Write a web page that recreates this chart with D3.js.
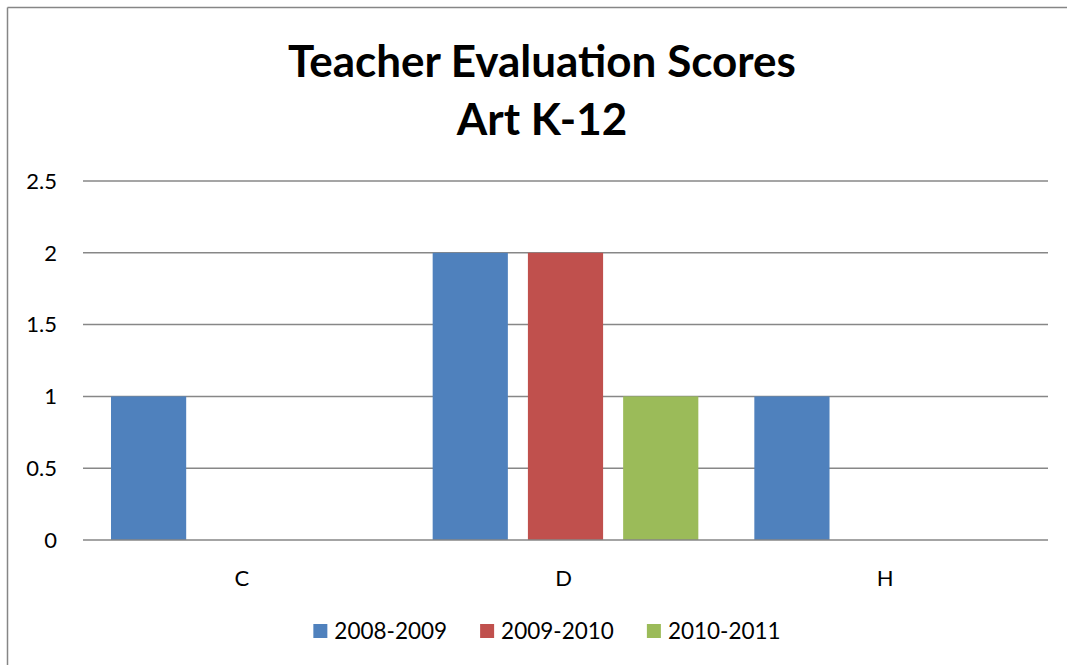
<!DOCTYPE html>
<html><head><meta charset="utf-8">
<script src="https://cdn.jsdelivr.net/npm/d3@7"></script>
<style>html,body{margin:0;background:#fff;overflow:hidden;} svg{display:block;font-family:Lato, "Open Sans", sans-serif;overflow:hidden;}</style>
</head><body>
<svg id="c" width="1067" height="665"></svg>
<script>
const categories = ["C", "D", "H"];
const seriesNames = ["2008-2009", "2009-2010", "2010-2011"];
const s2008 = [1, 2, 1];
const s2009 = [0, 2, 0];
const s2010 = [0, 1, 0];
const yTicks = [0, 0.5, 1, 1.5, 2, 2.5];
const colors = ["#4F81BD", "#C0504D", "#9BBB59"];
const titleLines = ["Teacher Evaluation Scores", "Art K-12"];

const seriesValues = [s2008, s2009, s2010];
const svg = d3.select("#c");
// chart frame: only top and left edges are visible in the frame
svg.append("line").attr("x1",7.5).attr("x2",1067).attr("y1",7.5).attr("y2",7.5).attr("stroke","#868686").attr("stroke-width",1.5);
svg.append("line").attr("x1",7.5).attr("x2",7.5).attr("y1",7.5).attr("y2",665).attr("stroke","#868686").attr("stroke-width",1.5);

const L=83, R=1048, T=181, B=540;
const x0 = d3.scaleBand().domain(categories).range([L,R]).padding(0);
const x1 = d3.scaleBand().domain(seriesNames).range([28, x0.bandwidth()-28]).paddingInner(20/95).paddingOuter(0);
const y = d3.scaleLinear().domain([0,2.5]).range([B,T]);

// gridlines
svg.append("g").selectAll("line").data(yTicks.filter(d=>d>0)).join("line")
  .attr("x1",L).attr("x2",R).attr("y1",d=>y(d)).attr("y2",d=>y(d))
  .attr("stroke","#878787").attr("stroke-width",1.5);

// y labels
svg.append("g").selectAll("text").data(yTicks).join("text")
  .attr("x",57).attr("y",d=>y(d)).attr("dy","0.35em").attr("text-anchor","end")
  .attr("font-size",22).attr("fill","#000").text(d=>d);

// bars
const data = [];
categories.forEach((c,i)=>seriesNames.forEach((s,j)=>data.push({c,s,j,v:seriesValues[j][i]})));
svg.append("g").selectAll("rect").data(data.filter(d=>d.v>0)).join("rect")
  .attr("x",d=>x0(d.c)+x1(d.s)).attr("width",x1.bandwidth())
  .attr("y",d=>y(d.v)).attr("height",d=>y(0)-y(d.v)).attr("fill",d=>colors[d.j]);

// axis line
svg.append("line").attr("x1",L).attr("x2",R).attr("y1",y(0)).attr("y2",y(0))
  .attr("stroke","#868686").attr("stroke-width",1.5);

// x labels
svg.append("g").selectAll("text").data(categories).join("text")
  .attr("x",d=>x0(d)+x0.bandwidth()/2 - 2).attr("y",586).attr("text-anchor","middle")
  .attr("font-size",22).text(d=>d);

// title
svg.append("g").selectAll("text").data(titleLines).join("text")
  .attr("x",542).attr("y",(d,i)=>77+i*58).attr("text-anchor","middle")
  .attr("font-size",44).attr("font-weight","bold").text(d=>d);

// legend
const lg = svg.append("g");
const items = lg.selectAll("g").data(seriesNames).join("g");
items.append("rect").attr("width",14).attr("height",14).attr("y",-7).attr("fill",(d,i)=>colors[i]);
items.append("text").attr("x",21).attr("dy","0.35em").attr("font-size",22.5).text(d=>d);
const widths=[];
items.each(function(){ widths.push(this.getBBox().width); });
const gap=33;
const total = d3.sum(widths)+gap*(widths.length-1);
let cur = 547 - total/2;
items.attr("transform",(d,i)=>{const t=`translate(${cur},631)`; cur+=widths[i]+gap; return t;});
</script>
</body></html>
